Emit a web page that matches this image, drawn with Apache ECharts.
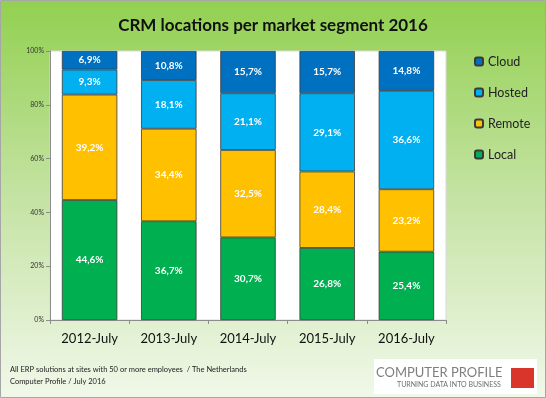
<!DOCTYPE html>
<html><head><meta charset="utf-8">
<script src="https://cdn.jsdelivr.net/npm/echarts@6/dist/echarts.min.js"></script>
<style>html,body{margin:0;padding:0;}#c{width:546px;height:398px;}</style>
</head><body><div id="c"></div>
<script>
const categories = ['2012-July','2013-July','2014-July','2015-July','2016-July'];
const local  = [44.6, 36.7, 30.7, 26.8, 25.4];
const remote = [39.2, 34.4, 32.5, 28.4, 23.2];
const hosted = [9.3, 18.1, 21.1, 29.1, 36.6];
const cloud  = [6.9, 10.8, 15.7, 15.7, 14.8];
const yTicks = [0, 20, 40, 60, 80, 100];

const FONT = 'Lato';
const chart = echarts.init(document.getElementById('c'), null, {renderer:'canvas'});
function mk(name, data, color){
  return {
    name, type:'bar', stack:'t', data, barWidth:'70%',
    itemStyle:{color, borderColor:'#3a3a3a', borderWidth:0.8},
    label:{show:true, color:'#fff', fontWeight:'bold', fontSize:10, fontFamily:FONT,
      formatter:p=>p.value.toFixed(1).replace('.',',')+'%'}
  };
}
chart.setOption({
  animation:false,
  graphic:[
    {type:'rect', z:-10, shape:{x:0.5,y:0.5,width:545,height:397},
     style:{fill:new echarts.graphic.LinearGradient(0,0,0,1,[
       {offset:0,color:'#92d050'},{offset:0.5,color:'#c5e3a4'},{offset:1,color:'#f1f8ea'}]),
       stroke:'#a6a6a6', lineWidth:1}},
    {type:'text', left:10, top:366, style:{text:'All ERP solutions at sites with 50 or more employees  / The Netherlands', fontSize:7.5, fill:'#222', fontFamily:FONT}},
    {type:'text', left:10, top:378, style:{text:'Computer Profile / July 2016', fontSize:7.5, fill:'#222', fontFamily:FONT}},
    {type:'rect', shape:{x:374,y:359,width:163,height:35}, style:{fill:'#fff'}},
    {type:'text', left:376, top:366, style:{text:'COMPUTER PROFILE', fontSize:13, fill:'#7f7f7f', fontFamily:FONT}},
    {type:'text', left:397, top:381, style:{text:'TURNING DATA INTO BUSINESS', fontSize:7, fill:'#6f6f6f', fontFamily:FONT}},
    {type:'rect', shape:{x:511,y:368,width:23,height:20}, style:{fill:'#d9352b'}}
  ],
  title:{text:'CRM locations per market segment 2016', left:'center', top:12,
    textStyle:{fontSize:17, fontWeight:'bold', color:'#111', fontFamily:FONT}},
  legend:{orient:'vertical', left:469, top:50, itemGap:18, itemWidth:8, itemHeight:8,
    textStyle:{fontSize:12.5, color:'#222', fontFamily:FONT},
    data:['Cloud','Hosted','Remote','Local']},
  grid:{left:50, right:100, top:51, bottom:78, show:true, backgroundColor:'#fff', borderColor:'#d9d9d9', borderWidth:1},
  xAxis:{type:'category', data:categories,
    axisLine:{lineStyle:{color:'#8c8c8c'}},
    axisTick:{show:true, length:4, lineStyle:{color:'#8c8c8c'}},
    axisLabel:{fontSize:13, color:'#111', margin:12, fontFamily:FONT}},
  yAxis:{type:'value', min:0, max:100, interval:20,
    axisLine:{show:true, lineStyle:{color:'#8c8c8c'}},
    axisTick:{show:true, length:4, lineStyle:{color:'#8c8c8c'}},
    splitLine:{show:false},
    axisLabel:{fontSize:7, color:'#333', margin:6, fontFamily:FONT,
      customValues:yTicks, formatter:v=>v+'%'}},
  series:[mk('Local',local,'#00b050'), mk('Remote',remote,'#ffc000'), mk('Hosted',hosted,'#00b0f0'), mk('Cloud',cloud,'#0070c0')]
});
</script></body></html>
